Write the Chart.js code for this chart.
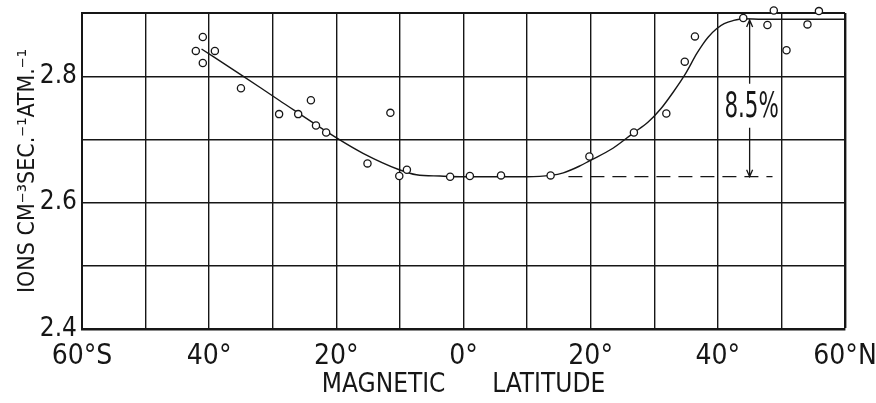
<!DOCTYPE html>
<html>
<head>
<meta charset="utf-8">
<script src="https://cdn.jsdelivr.net/npm/chart.js@4/dist/chart.umd.min.js"></script>
<style>
  html, body { margin: 0; padding: 0; background: #fff; }
  #wrap { width: 876px; height: 403px; }
</style>
</head>
<body>
<div id="wrap"><canvas id="ionChart"></canvas></div>
<script>
// measured points (magnetic latitude in degrees, negative = south)
const pointLat = [-42.1, -41.0, -41.0, -39.1, -35.0, -29.0, -26.0, -24.0, -23.2, -21.6,
  -15.1, -11.5, -10.1, -8.9, -2.1, 1.0, 5.9, 13.7, 19.8, 26.8,
  31.9, 34.8, 36.4, 44.0, 47.8, 48.8, 50.8, 54.1, 55.9];
const pointRate = [2.840, 2.862, 2.821, 2.840, 2.781, 2.740, 2.740, 2.762, 2.722, 2.711,
  2.662, 2.742, 2.642, 2.652, 2.641, 2.642, 2.643, 2.643, 2.673, 2.711,
  2.741, 2.823, 2.863, 2.892, 2.881, 2.904, 2.841, 2.882, 2.903];

// hand drawn smooth curve
const curveLat = [-41.2, -35.1, -29.0, -19.9, -15.8, -10.1, -7.4, -3.7, 0, 5, 10, 13.7,
  15.7, 18.3, 19.8, 23.5, 26.7, 29.0, 31.0, 33.0, 34.8, 36.7, 37.6, 38.5, 39.8, 41.0, 42.4, 44.0, 47.0, 60.0];
const curveRate = [2.843, 2.803, 2.762, 2.702, 2.678, 2.652, 2.644, 2.642, 2.641, 2.641, 2.641, 2.643,
  2.647, 2.658, 2.666, 2.686, 2.710, 2.727, 2.748, 2.775, 2.802, 2.836, 2.850, 2.862, 2.875, 2.883, 2.888, 2.891, 2.890, 2.890];

// dashed reference level
const dashLat = [16.5, 48.6];
const dashRate = [2.641, 2.641];

// 8.5% arrow
const arrowLat = 45.0;
const arrowTop = 2.889;
const arrowBottom = 2.641;
const arrowLabel = '8.5%';

const xTickValues = [-60, -40, -20, 0, 20, 40, 60];
const xTickLabels = ['60°S', '40°', '20°', '0°', '20°', '40°', '60°N'];
const yTickValues = [2.4, 2.6, 2.8];
const yTickLabels = ['2.4', '2.6', '2.8'];

const FONT = "'DejaVu Sans Condensed', 'Liberation Sans Narrow', sans-serif";
const INK = '#161616';

const toXY = (xs, ys) => xs.map((x, i) => ({ x, y: ys[i] }));

const arrowPlugin = {
  id: 'arrowPlugin',
  afterDatasetsDraw(chart) {
    const { ctx, scales: { x, y } } = chart;
    const px = x.getPixelForValue(arrowLat);
    const top = y.getPixelForValue(arrowTop);
    const bot = y.getPixelForValue(arrowBottom);
    const mid = y.getPixelForValue(2.75);
    ctx.save();
    ctx.strokeStyle = INK;
    ctx.lineWidth = 1.3;
    ctx.beginPath();
    ctx.moveTo(px, top);
    ctx.lineTo(px, mid - 24);
    ctx.moveTo(px, mid + 20);
    ctx.lineTo(px, bot);
    // heads
    ctx.moveTo(px - 3, top + 7);
    ctx.lineTo(px, top);
    ctx.lineTo(px + 3, top + 7);
    ctx.moveTo(px - 3, bot - 7);
    ctx.lineTo(px, bot);
    ctx.lineTo(px + 3, bot - 7);
    ctx.stroke();

    ctx.fillStyle = INK;
    ctx.font = '35px ' + FONT;
    ctx.textAlign = 'center';
    ctx.textBaseline = 'middle';
    ctx.translate(px + 2, mid);
    ctx.scale(0.68, 1);
    ctx.fillText(arrowLabel, 0, 0);
    ctx.restore();
  }
};

const gridWidth = (edgeVal, edgeW) => ctx => {
  const v = ctx.tick ? ctx.tick.value : null;
  return v !== null && Math.abs(v - edgeVal) < 1e-6 ? edgeW : 1.4;
};

new Chart(document.getElementById('ionChart').getContext('2d'), {
  type: 'scatter',
  data: {
    datasets: [
      {
        label: 'curve',
        type: 'line',
        data: toXY(curveLat, curveRate),
        borderColor: INK,
        borderWidth: 1.4,
        pointRadius: 0,
        cubicInterpolationMode: 'monotone',
        fill: false,
        order: 2
      },
      {
        label: 'level',
        type: 'line',
        data: toXY(dashLat, dashRate),
        borderColor: INK,
        borderWidth: 1.2,
        borderDash: [14, 8],
        pointRadius: 0,
        fill: false,
        order: 3
      },
      {
        label: 'observed',
        data: toXY(pointLat, pointRate),
        pointRadius: 3.6,
        pointBorderWidth: 1.3,
        pointBackgroundColor: '#fff',
        pointBorderColor: INK,
        clip: false,
        order: 1
      }
    ]
  },
  options: {
    responsive: true,
    maintainAspectRatio: false,
    animation: false,
    layout: { padding: { top: 13, right: 31, left: 0, bottom: 0 } },
    plugins: {
      legend: { display: false },
      tooltip: { enabled: false }
    },
    scales: {
      x: {
        type: 'linear',
        min: -60,
        max: 60,
        afterFit: s => { s.height = 74; s.paddingLeft = 0; s.paddingRight = 0; },
        ticks: {
          stepSize: 10,
          autoSkip: false,
          maxRotation: 0,
          padding: 14,
          color: INK,
          font: { family: FONT, size: 28, lineHeight: 1 },
          callback: v => {
            const i = xTickValues.indexOf(Math.round(v));
            return i >= 0 ? xTickLabels[i] : '';
          }
        },
        grid: {
          color: INK,
          lineWidth: gridWidth(60, 2.4),
          drawTicks: false
        },
        border: { color: INK, width: 2.6 },
        title: {
          display: true,
          text: 'MAGNETIC\u2003\u2003LATITUDE',
          color: INK,
          font: { family: FONT, size: 26, lineHeight: 1 },
          padding: { top: 0, bottom: 5 }
        }
      },
      y: {
        type: 'linear',
        min: 2.4,
        max: 2.9,
        afterFit: s => { s.width = 82; s.paddingTop = 0; s.paddingBottom = 0; },
        ticks: {
          stepSize: 0.1,
          padding: 5,
          color: INK,
          font: { family: FONT, size: 26, lineHeight: 0.8 },
          callback: v => {
            const i = yTickValues.findIndex(t => Math.abs(t - v) < 1e-6);
            return i >= 0 ? yTickLabels[i] : '';
          }
        },
        grid: {
          color: INK,
          lineWidth: gridWidth(2.9, 2),
          drawTicks: false
        },
        border: { color: INK, width: 2 },
        title: {
          display: true,
          text: 'IONS CM⁻³SEC.⁻¹ATM.⁻¹',
          color: INK,
          font: { family: FONT, size: 23, lineHeight: 1 },
          padding: { top: 17, bottom: 0 }
        }
      }
    }
  },
  plugins: [arrowPlugin]
});
</script>
</body>
</html>
